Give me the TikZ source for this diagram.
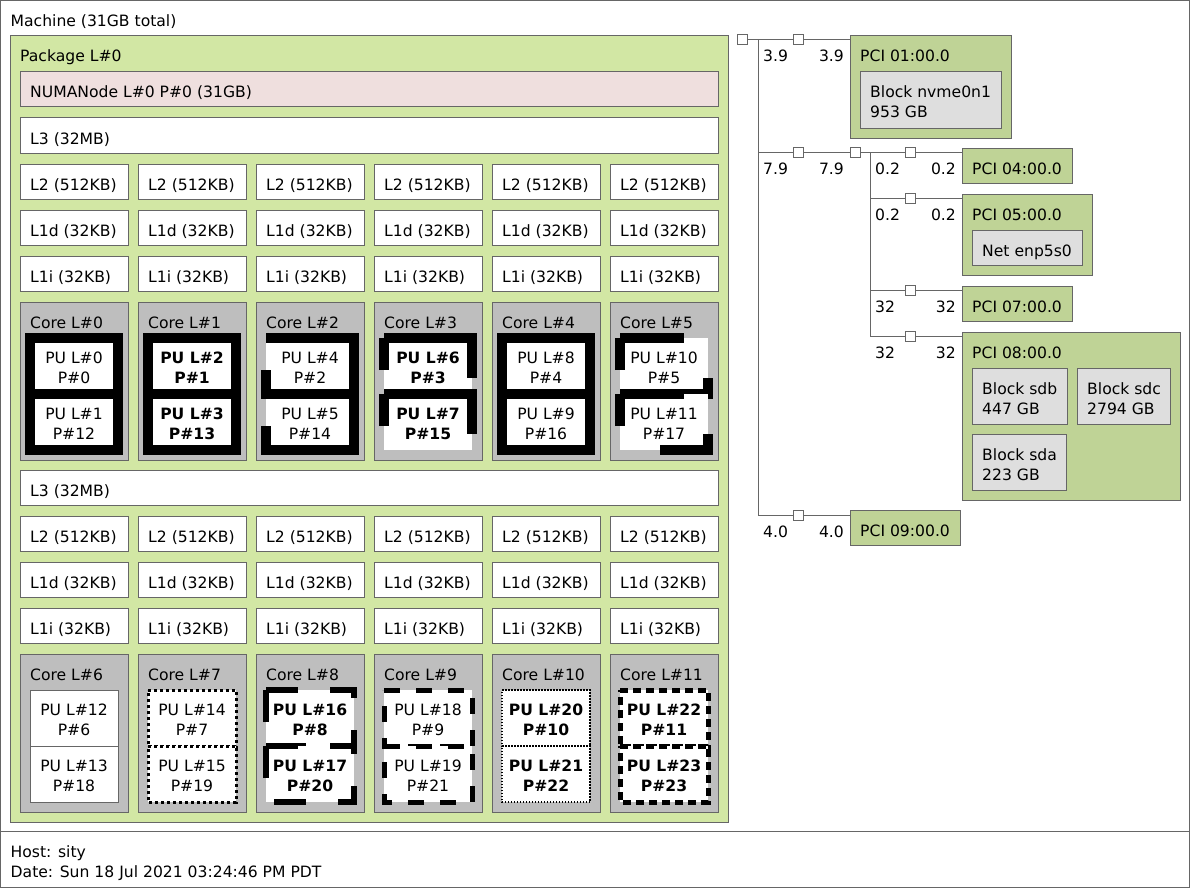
\documentclass[tikz,border=0pt]{standalone}
\usepackage{fontspec}
\setmainfont{DejaVu Sans}
\usetikzlibrary{positioning,calc}

\definecolor{linec}{HTML}{666666}
\definecolor{pkgc}{HTML}{D2E7A4}
\definecolor{numac}{HTML}{EFDFDE}
\definecolor{corec}{HTML}{BEBEBE}
\definecolor{pcic}{HTML}{BFD396}
\definecolor{osdevc}{HTML}{DEDEDE}

\newcommand{\fs}{\fontsize{15.6}{20}\selectfont}
\newcommand{\twol}[2]{\begin{tabular}[t]{@{}l@{}}#1\\#2\end{tabular}}
\newcommand{\twoc}[2]{\begin{tabular}[t]{@{}c@{}}#1\\#2\end{tabular}}

\tikzset{
  box/.style={draw=linec, line width=1pt, anchor=north west, inner sep=0pt, outer sep=0pt},
  pkg/.style={box, fill=pkgc},
  numa/.style={box, fill=numac},
  cache/.style={box, fill=white},
  corebox/.style={box, fill=corec},
  pci/.style={box, fill=pcic},
  osdev/.style={box, fill=osdevc},
  lbl/.style={anchor=base west, inner sep=0pt},
  pucell/.style={anchor=north west, inner sep=0pt, outer sep=0pt, minimum width=88, minimum height=56},
  putxt/.style={anchor=base, inner sep=0pt},
  pusolid/.style={line width=10pt},
  pudashA/.style={line width=10pt, dash pattern=on 256pt off 256pt},
  pudashB/.style={line width=10pt, dash pattern=on 128pt off 128pt},
  pudashC/.style={line width=10pt, dash pattern=on 64pt off 64pt},
  puthin/.style={draw=linec, line width=1pt},
  pudot/.style={line width=3pt, dash pattern=on 3pt off 3pt},
  pudashD/.style={line width=6pt, dash pattern=on 32pt off 32pt},
  pudashE/.style={line width=5pt, dash pattern=on 16pt off 16pt},
  pufine/.style={line width=1.5pt, dash pattern=on 1.5pt off 1.5pt},
  pudashF/.style={line width=5pt, dash pattern=on 8pt off 5pt},
  port/.style={draw=linec, fill=white, line width=1pt, minimum size=10pt, inner sep=0pt},
  link/.style={draw=linec, line width=1pt},
  spd/.style={anchor=base west, inner sep=0pt},
  spdr/.style={anchor=base east, inner sep=0pt}
}

\newcommand{\ubox}[7]{%
  \node[#2, minimum width=#5, minimum height=#6] (#1) at ({#3},{#4}) {};
  \node[lbl] (#1t) at ([shift={(10,26)}]#1.north west) {#7};
}

\newcommand{\puc}[7]{%
  \node[pucell] (#1) at ({#2},{#3}) {};
  \filldraw[fill=white,#4] (#1.north west) -- (#1.north east) -- (#1.south east) -- (#1.south west) -- cycle;
  \node[putxt,font=\fs#5] (#1t) at ([shift={(44,25)}]#1.north west) {\twoc{#6}{#7}};
}

\newcommand{\pucore}[9]{%
  \ubox{core#1}{corebox}{#2}{#3}{108}{158}{Core L\##1}
  \puc{pu#6}{#2+10}{#3+36}{#4}{#5}{PU L\##6}{P\##7}
  \puc{pu#8}{#2+10}{#3+92}{#4}{#5}{PU L\##8}{P\##9}
}

\begin{document}
\begin{tikzpicture}[x=1pt, y=-1pt, every node/.style={font=\fs}]
  \useasboundingbox (0,0) rectangle (1190,888);

  \ubox{machine}{box,fill=white}{0.5}{0.5}{1189}{831}{Machine (31GB total)}
  \ubox{legend}{box,fill=white}{0.5}{831.5}{1189}{56}{\twol{Host: sity}{Date: Sun 18 Jul 2021 03:24:46 PM PDT}}

  \ubox{pkg}{pkg}{10}{36}{718}{786}{Package L\#0}
  \ubox{numa}{numa}{20}{72}{698}{35}{NUMANode L\#0 P\#0 (31GB)}

  \foreach \r/\y in {a/118,b/470} {
    \ubox{l3\r}{cache}{20}{\y}{698}{35}{L3 (32MB)}
    \foreach \i in {0,...,5} {
      \ubox{l2\r\i}{cache}{20+118*\i}{\y+46}{108}{35}{L2 (512KB)}
      \ubox{l1d\r\i}{cache}{20+118*\i}{\y+92}{108}{35}{L1d (32KB)}
      \ubox{l1i\r\i}{cache}{20+118*\i}{\y+138}{108}{35}{L1i (32KB)}
    }
  }

  \pucore{0}{20}{302}{pusolid}{\mdseries}{0}{0}{1}{12}
  \pucore{1}{138}{302}{pusolid}{\bfseries}{2}{1}{3}{13}
  \pucore{2}{256}{302}{pudashA}{\mdseries}{4}{2}{5}{14}
  \pucore{3}{374}{302}{pudashB}{\bfseries}{6}{3}{7}{15}
  \pucore{4}{492}{302}{pusolid}{\mdseries}{8}{4}{9}{16}
  \pucore{5}{610}{302}{pudashC}{\mdseries}{10}{5}{11}{17}
  \pucore{6}{20}{654}{puthin}{\mdseries}{12}{6}{13}{18}
  \pucore{7}{138}{654}{pudot}{\mdseries}{14}{7}{15}{19}
  \pucore{8}{256}{654}{pudashD}{\bfseries}{16}{8}{17}{20}
  \pucore{9}{374}{654}{pudashE}{\mdseries}{18}{9}{19}{21}
  \pucore{10}{492}{654}{pufine}{\bfseries}{20}{10}{21}{22}
  \pucore{11}{610}{654}{pudashF}{\bfseries}{22}{11}{23}{23}

  \ubox{pci01}{pci}{850}{36}{161}{102}{PCI 01:00.0}
  \ubox{nvme}{osdev}{860}{72}{141}{56}{\twol{Block nvme0n1}{953 GB}}
  \ubox{pci04}{pci}{962}{148}{110}{35}{PCI 04:00.0}
  \ubox{pci05}{pci}{962}{194}{130}{81}{PCI 05:00.0}
  \ubox{net}{osdev}{972}{230}{110}{35}{Net enp5s0}
  \ubox{pci07}{pci}{962}{286}{110}{35}{PCI 07:00.0}
  \ubox{pci08}{pci}{962}{332}{218}{168}{PCI 08:00.0}
  \ubox{sdb}{osdev}{972}{368}{95}{56}{\twol{Block sdb}{447 GB}}
  \ubox{sdc}{osdev}{1077}{368}{93}{56}{\twol{Block sdc}{2794 GB}}
  \ubox{sda}{osdev}{972}{434}{94}{56}{\twol{Block sda}{223 GB}}
  \ubox{pci09}{pci}{850}{510}{110}{35}{PCI 09:00.0}

  \coordinate (tr0) at (758,40);
  \coordinate (tr2) at (758,152);
  \coordinate (tr5) at (758,515);
  \coordinate (st0) at (870,152);
  \coordinate (st1) at (870,198);
  \coordinate (st2) at (870,290);
  \coordinate (st3) at (870,336);

  \draw[link] (tr0) -- (tr5);
  \draw[link] (st0) -- (st3);

  \node[port] (hb) at (742,40) {};
  \node[port] (br1) at (798.5,40) {};
  \node[port] (br2) at (798.5,152) {};
  \node[port] (sw) at (855,152) {};
  \node[port] (br3) at (910.5,152) {};
  \node[port] (br4) at (910.5,198) {};
  \node[port] (br6) at (910.5,290) {};
  \node[port] (br7) at (910.5,336) {};
  \node[port] (br5) at (798.5,515) {};

  \draw[link] (hb) -- (br1) -- (br1 -| pci01.west);
  \draw[link] (tr2) -- (br2) -- (sw) -- (br3) -- (br3 -| pci04.west);
  \draw[link] (st1) -- (br4) -- (br4 -| pci05.west);
  \draw[link] (st2) -- (br6) -- (br6 -| pci07.west);
  \draw[link] (st3) -- (br7) -- (br7 -| pci08.west);
  \draw[link] (tr5) -- (br5) -- (br5 -| pci09.west);

  \node[spd] (s1a) at (763,62) {3.9};
  \node[spdr] (s1b) at (844,62) {3.9};
  \node[spd] (s2a) at (763,174) {7.9};
  \node[spdr] (s2b) at (844,174) {7.9};
  \node[spd] (s3a) at (875,174) {0.2};
  \node[spdr] (s3b) at (956,174) {0.2};
  \node[spd] (s4a) at (875,220) {0.2};
  \node[spdr] (s4b) at (956,220) {0.2};
  \node[spd] (s6a) at (875,312) {32};
  \node[spdr] (s6b) at (956,312) {32};
  \node[spd] (s7a) at (875,358) {32};
  \node[spdr] (s7b) at (956,358) {32};
  \node[spd] (s5a) at (763,537) {4.0};
  \node[spdr] (s5b) at (844,537) {4.0};
\end{tikzpicture}
\end{document}
